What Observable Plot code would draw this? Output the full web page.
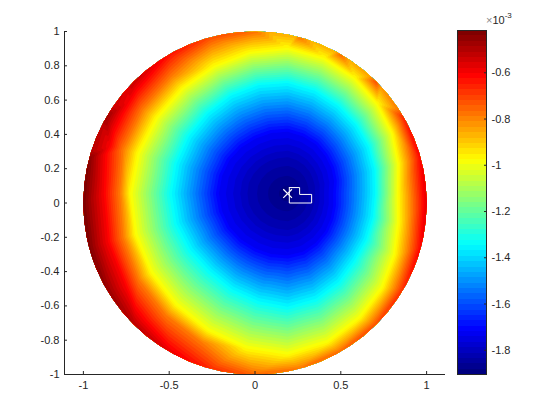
<!DOCTYPE html>
<html>
<head>
<meta charset="utf-8">
<script src="https://cdn.jsdelivr.net/npm/d3@7"></script>
<script src="https://cdn.jsdelivr.net/npm/@observablehq/plot@0.6"></script>
<style>
  html, body { margin: 0; padding: 0; background: #fff; }
  #wrap { position: relative; width: 560px; height: 420px; overflow: hidden; }
  #wrap svg { position: absolute; top: 0; }
</style>
</head>
<body>
<div id="wrap"></div>
<script>
// ---- data (values in units of 1e-3) ----
const minPoint = [0.19, 0.055];          // location of the minimum (the "x" marker)
const minValue = -1.90;
// colour levels: dark blue, blue, cyan, yellow, orange, red
const rayLevels = [-1.82, -1.72, -1.347, -0.975, -0.79, -0.60];
const rayAngles = [0, 15, 30, 45, 60, 75, 90, 105, 120, 135, 150, 165, 180, 195, 210, 225, 240, 255, 270, 285, 300, 315, 330, 345];
// distance from the minimum at which each level is reached along each ray (null: not read / not reached)
const rayDistances = [
  [0.15, 0.265, 0.51,  0.645, null, null],
  [0.155,0.28,  0.525, 0.67,  null, null],
  [0.16, 0.295, 0.545, 0.705, null, null],
  [0.17, 0.31,  0.565, 0.74,  null, null],
  [0.18, 0.33,  0.59,  0.78,  null, null],
  [0.19, 0.345, 0.62,  0.82,  null, null],
  [0.20, 0.36,  0.645, 0.85,  null, null],
  [0.20, 0.365, 0.655, 0.855, null, null],
  [0.205,0.37,  0.66,  0.86,  null, null],
  [0.21, 0.38,  0.66,  0.87,  0.96, null],
  [0.215,0.39,  0.665, 0.885, 0.975,1.07],
  [0.22, 0.395, 0.67,  0.905, 0.99, 1.075],
  [0.22, 0.40,  0.675, 0.918, 0.976,1.073],
  [0.22, 0.395, 0.67,  0.92,  0.99, 1.085],
  [0.215,0.39,  0.655, 0.92,  1.0,  1.09],
  [0.21, 0.38,  0.64,  0.92,  1.0,  null],
  [0.205,0.37,  0.645, 0.925, 1.0,  null],
  [0.20, 0.365, 0.65,  0.935, null, null],
  [0.20, 0.36,  0.66,  0.94,  null, null],
  [0.19, 0.35,  0.635, 0.90,  null, null],
  [0.18, 0.33,  0.595, 0.84,  null, null],
  [0.17, 0.31,  0.55,  0.78,  null, null],
  [0.16, 0.29,  0.53,  0.72,  null, null],
  [0.155,0.275, 0.515, 0.67,  null, null]
];
// value on the rim of the disk, by angle around the origin
const rimAngles = [0, 15, 30, 45, 60, 75, 90, 105, 120, 135, 150, 165, 180, 195, 210, 225, 240, 255, 270, 285, 300, 315, 330, 345];
const rimValues = [-0.57, -0.61, -0.66, -0.72, -0.76, -0.78, -0.77, -0.72, -0.63, -0.53, -0.47, -0.44,
                   -0.42, -0.43, -0.46, -0.51, -0.58, -0.67, -0.76, -0.78, -0.76, -0.72, -0.67, -0.61];

const outlineX = [0.2, 0.26, 0.26, 0.33, 0.33, 0.2, 0.2];
const outlineY = [0.09, 0.09, 0.05, 0.05, 0.0, 0.0, 0.09];

const xTicks = [-1, -0.5, 0, 0.5, 1];
const yTicks = [-1, -0.8, -0.6, -0.4, -0.2, 0, 0.2, 0.4, 0.6, 0.8, 1];
const cbTicks = [-1.8, -1.6, -1.4, -1.2, -1, -0.8, -0.6];
const cbRange = [-1.905, -0.417];
const nColors = 64;

// ---- build sample table ----
const rad = a => a * Math.PI / 180;
const points = [{x: minPoint[0], y: minPoint[1], v: minValue}];
rayAngles.forEach((a, i) => {
  rayLevels.forEach((lv, j) => {
    const d = rayDistances[i][j];
    if (d == null) return;
    points.push({x: minPoint[0] + d * Math.cos(rad(a)), y: minPoint[1] + d * Math.sin(rad(a)), v: lv});
  });
});
// rim values placed on the circle and repeated just outside it (flat extension)
[1.0, 1.06].forEach(R => rimAngles.forEach((a, i) => {
  points.push({x: R * Math.cos(rad(a)), y: R * Math.sin(rad(a)), v: rimValues[i]});
}));
const outline = outlineX.map((x, i) => ({x, y: outlineY[i]}));

const step = (cbRange[1] - cbRange[0]) / nColors;
const thresholds = d3.range(nColors).map(i => cbRange[0] + i * step);
const cells = thresholds.map(v0 => ({v0, v1: v0 + step}));

function jet(t) {
  const c = v => Math.max(0, Math.min(1, v));
  const r = c(1.5 - Math.abs(4 * t - 3)), g = c(1.5 - Math.abs(4 * t - 2)), b = c(1.5 - Math.abs(4 * t - 1));
  return `rgb(${Math.round(r * 255)},${Math.round(g * 255)},${Math.round(b * 255)})`;
}
const colorOpts = {type: "linear", domain: [cbRange[0], cbRange[0] + (nColors - 1) * step], interpolate: jet};
const font = {fontFamily: "'Liberation Sans', Arial, sans-serif", fontSize: "11px", color: "#262626", background: "transparent"};
const fmt = d => String(d);

const main = Plot.plot({
  width: 560, height: 420,
  marginLeft: 64, marginRight: 115, marginTop: 31, marginBottom: 46,
  x: {domain: [-1.11, 1.11]},
  y: {domain: [-1, 1]},
  color: colorOpts,
  style: font,
  marks: [
    Plot.contour(points, {x: "x", y: "y", fill: "v", interpolate: "barycentric", thresholds, pixelSize: 1, stroke: "none"}),
    Plot.ruleY([-1], {stroke: "#262626"}),
    Plot.ruleX([-1.11], {stroke: "#262626"}),
    Plot.axisX({ticks: xTicks, tickFormat: fmt, tickSize: -3, tickPadding: 10, label: null, stroke: "#262626", fontSize: 11}),
    Plot.axisY({ticks: yTicks, tickFormat: fmt, tickSize: -3, tickPadding: 8, label: null, stroke: "#262626", fontSize: 11}),
    Plot.line(outline, {x: "x", y: "y", stroke: "white", strokeWidth: 1}),
    Plot.dot([{x: minPoint[0], y: minPoint[1]}], {x: "x", y: "y", symbol: "times", r: 4, stroke: "white", strokeWidth: 1.2})
  ]
});

// clip the field to the unit disk using the plot's own scales
const sx = main.scale("x"), sy = main.scale("y");
const ns = "http://www.w3.org/2000/svg";
const defs = document.createElementNS(ns, "defs");
const cp = document.createElementNS(ns, "clipPath");
cp.setAttribute("id", "diskclip");
const circ = document.createElementNS(ns, "ellipse");
circ.setAttribute("cx", sx.apply(0));
circ.setAttribute("cy", sy.apply(0));
circ.setAttribute("rx", sx.apply(1) - sx.apply(0));
circ.setAttribute("ry", sy.apply(-1) - sy.apply(0));
cp.appendChild(circ); defs.appendChild(cp); main.insertBefore(defs, main.firstChild);
const cg = main.querySelector('g[aria-label="contour"]');
if (cg) cg.setAttribute("clip-path", "url(#diskclip)");

const cb = Plot.plot({
  width: 120, height: 420,
  marginLeft: 17, marginRight: 74, marginTop: 30, marginBottom: 46,
  y: {domain: cbRange},
  color: colorOpts,
  style: font,
  marks: [
    Plot.rect(cells, {y1: "v0", y2: "v1", fill: "v0", shapeRendering: "crispEdges"}),
    Plot.frame({stroke: "#262626"}),
    Plot.axisY({anchor: "right", ticks: cbTicks, tickFormat: fmt, tickSize: -3, tickPadding: 8, label: null, stroke: "#262626", fontSize: 11})
  ]
});
const t = d3.select(cb).append("text").attr("x", 46).attr("y", 24)
  .attr("text-anchor", "start").attr("fill", "#262626").attr("font-size", 11);
t.append("tspan").attr("fill", "#888").text("×");
t.append("tspan").text("10");
t.append("tspan").attr("dy", -6).attr("font-size", 8).text("-3");

const wrap = document.getElementById("wrap");
main.style.left = "0px";
cb.style.left = "440px";
wrap.appendChild(main);
wrap.appendChild(cb);
</script>
</body>
</html>
